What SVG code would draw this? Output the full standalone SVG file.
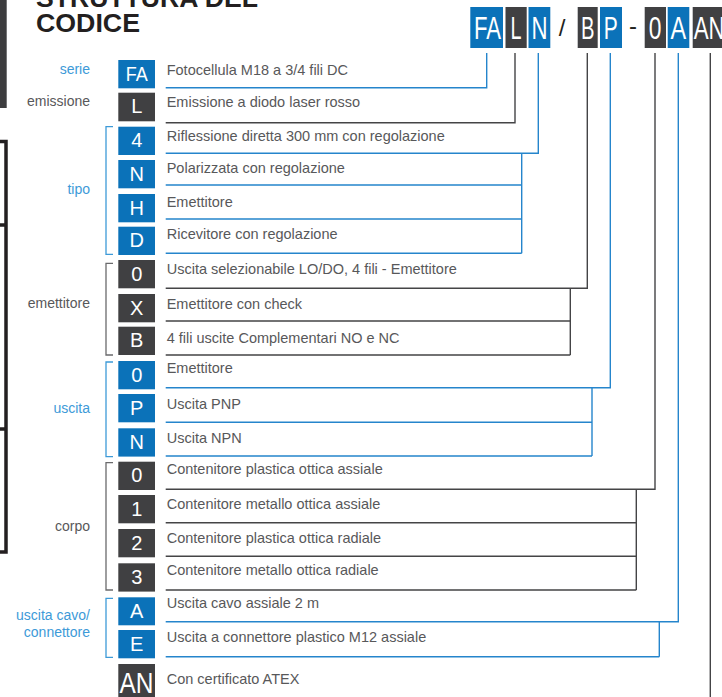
<svg xmlns="http://www.w3.org/2000/svg" width="722" height="697" viewBox="0 0 722 697">
<style>
.bb{fill:#0b72b9}
.db{fill:#404042}
.bl{fill:#fff;font-family:"Liberation Sans",Arial,sans-serif;font-size:20px;text-anchor:middle}
.tl{fill:#fff;font-family:"Liberation Sans",Arial,sans-serif;font-size:31px;text-anchor:middle}
.ds{fill:#58585a;font-family:"Liberation Sans",Arial,sans-serif;font-size:14.5px}
.lb{fill:#3d9ad8;font-family:"Liberation Sans",Arial,sans-serif;font-size:14px;text-anchor:end}
.lg{fill:#58585a;font-family:"Liberation Sans",Arial,sans-serif;font-size:14px;text-anchor:end}
.cb{fill:none;stroke:#2585cc;stroke-width:1.4}
.cd{fill:none;stroke:#444446;stroke-width:1.4}
.brb{fill:none;stroke:#3d9ad8;stroke-width:1.3}
.brd{fill:none;stroke:#6a6a6c;stroke-width:1.3}
</style>
<rect x="0" y="0" width="722" height="697" fill="#fff"/>
<!-- left edge fragments -->
<g id="edge">
<rect x="0" y="0" width="6.7" height="108" fill="#3d3d3f"/>
<path d="M0 141.5 H6 V552 H0 M0 225 H6 M0 429 H6" fill="none" stroke="#231f20" stroke-width="3.5"/>
</g>
<g id="title" font-family="'Liberation Sans',Arial,sans-serif" font-weight="bold" fill="#231f20" font-size="25">
<text x="36" y="6.5" textLength="222" lengthAdjust="spacingAndGlyphs">STRUTTURA DEL</text>
<text x="36" y="31.7" textLength="104" lengthAdjust="spacingAndGlyphs">CODICE</text>
</g>
<!-- code header -->
<g id="code">
<rect class="bb" x="470.3" y="7" width="32.7" height="41"/>
<text class="tl" x="487.6" y="39.3" textLength="27" lengthAdjust="spacingAndGlyphs">FA</text>
<rect class="db" x="505.5" y="7" width="21.2" height="41"/>
<text class="tl" x="516" y="39.3" textLength="11" lengthAdjust="spacingAndGlyphs">L</text>
<rect class="bb" x="528.5" y="7" width="21.8" height="41"/>
<text class="tl" x="539.6" y="39.3" textLength="16" lengthAdjust="spacingAndGlyphs">N</text>
<text x="562" y="36" font-family="'Liberation Sans',Arial,sans-serif" font-size="24" fill="#231f20" text-anchor="middle">/</text>
<rect class="db" x="577.7" y="7" width="20" height="41"/>
<text class="tl" x="587.7" y="39.3" textLength="13.5" lengthAdjust="spacingAndGlyphs">B</text>
<rect class="bb" x="600" y="7" width="22" height="41"/>
<text class="tl" x="610.8" y="39.3" textLength="14" lengthAdjust="spacingAndGlyphs">P</text>
<text x="633" y="34" font-family="'Liberation Sans',Arial,sans-serif" font-size="24" fill="#231f20" text-anchor="middle">-</text>
<rect class="db" x="644.7" y="7" width="21.3" height="41"/>
<text class="tl" x="655" y="39.3" textLength="12.7" lengthAdjust="spacingAndGlyphs">0</text>
<rect class="bb" x="667.7" y="7" width="21.6" height="41"/>
<text class="tl" x="678.3" y="39.3" textLength="15.7" lengthAdjust="spacingAndGlyphs">A</text>
<rect class="db" x="692.7" y="7" width="40" height="41"/>
<text x="693.7" y="39.3" fill="#fff" font-family="'Liberation Sans',Arial,sans-serif" font-size="31" textLength="31" lengthAdjust="spacingAndGlyphs">AN</text>
</g>
<!-- connectors -->
<g id="connectors">
<path class="cb" d="M165.7 87.7 H486.7 V53"/>
<path class="cd" d="M165.7 122.7 H515 V53"/>
<path class="cb" d="M165.7 153.3 H538.3 V53 M521.7 153.3 V253.3 M165.7 185 H521.7 M165.7 219 H521.7 M165.7 253.3 H521.7"/>
<path class="cd" d="M165.7 288.3 H587.3 V53 M570.3 288.3 V355 M165.7 321 H570.3 M165.7 355 H570.3"/>
<path class="cb" d="M165.7 387.7 H610.3 V53 M592 387.7 V456 M165.7 422.3 H592 M165.7 456 H592"/>
<path class="cd" d="M165.7 489.3 H655 V53 M636.3 489.3 V590 M165.7 522.7 H636.3 M165.7 556.3 H636.3 M165.7 590 H636.3"/>
<path class="cb" d="M165.7 621.7 H678.3 V53 M659.3 621.7 V656.7 M165.7 656.7 H659.3"/>
<path class="cd" d="M710.3 53 V697"/>
</g>
<!-- category labels and brackets -->
<g id="labels">
<text class="lb" x="90" y="73.5">serie</text>
<text class="lg" x="90" y="105.5">emissione</text>
<text class="lb" x="90" y="194">tipo</text>
<text class="lg" x="90" y="307.7">emettitore</text>
<text class="lb" x="90" y="412.7">uscita</text>
<text class="lg" x="90" y="531">corpo</text>
<text class="lb" x="90" y="620">uscita cavo/</text>
<text class="lb" x="90" y="636.7">connettore</text>
<path class="brb" d="M113 126.7 H106 V254.3 H113"/>
<path class="brd" d="M113 263.3 H106 V355 H113"/>
<path class="brb" d="M113 362 H106 V456.7 H113"/>
<path class="brd" d="M113 462.7 H106 V590 H113"/>
<path class="brb" d="M113 598.3 H106 V657.3 H113"/>
</g>
<!-- rows -->
<g id="row-FA"><rect class="bb" x="118.3" y="60" width="36.7" height="28.3"/><text class="bl" x="136.7" y="80.5" textLength="22" lengthAdjust="spacingAndGlyphs">FA</text><text class="ds" x="166.7" y="75">Fotocellula M18 a 3/4 fili DC</text></g>
<g id="row-L"><rect class="db" x="118.3" y="92.7" width="36.7" height="28.6"/><text class="bl" x="136.7" y="113.2">L</text><text class="ds" x="166.7" y="107.3">Emissione a diodo laser rosso</text></g>
<g id="row-4"><rect class="bb" x="118.3" y="126.7" width="36.7" height="28.3"/><text class="bl" x="136.7" y="147.2">4</text><text class="ds" x="166.7" y="140.7">Riflessione diretta 300 mm con regolazione</text></g>
<g id="row-N"><rect class="bb" x="118.3" y="160" width="36.7" height="28.3"/><text class="bl" x="136.7" y="180.5">N</text><text class="ds" x="166.7" y="173.3">Polarizzata con regolazione</text></g>
<g id="row-H"><rect class="bb" x="118.3" y="194" width="36.7" height="28.3"/><text class="bl" x="136.7" y="214.5">H</text><text class="ds" x="166.7" y="206.7">Emettitore</text></g>
<g id="row-D"><rect class="bb" x="118.3" y="226.7" width="36.7" height="28.3"/><text class="bl" x="136.7" y="247.2">D</text><text class="ds" x="166.7" y="239.3">Ricevitore con regolazione</text></g>
<g id="row-E0"><rect class="db" x="118.3" y="260" width="36.7" height="28.3"/><text class="bl" x="136.7" y="280.5">0</text><text class="ds" x="166.7" y="274">Uscita selezionabile LO/DO, 4 fili - Emettitore</text></g>
<g id="row-X"><rect class="db" x="118.3" y="294" width="36.7" height="28.3"/><text class="bl" x="136.7" y="314.5">X</text><text class="ds" x="166.7" y="308.7">Emettitore con check</text></g>
<g id="row-B"><rect class="db" x="118.3" y="326.7" width="36.7" height="28.3"/><text class="bl" x="136.7" y="347.2">B</text><text class="ds" x="166.7" y="342.7">4 fili uscite Complementari NO e NC</text></g>
<g id="row-U0"><rect class="bb" x="118.3" y="361" width="36.7" height="28.3"/><text class="bl" x="136.7" y="381.5">0</text><text class="ds" x="166.7" y="373.3">Emettitore</text></g>
<g id="row-P"><rect class="bb" x="118.3" y="394" width="36.7" height="28.3"/><text class="bl" x="136.7" y="414.5">P</text><text class="ds" x="166.7" y="409.3">Uscita PNP</text></g>
<g id="row-UN"><rect class="bb" x="118.3" y="428.3" width="36.7" height="28.3"/><text class="bl" x="136.7" y="448.8">N</text><text class="ds" x="166.7" y="442.7">Uscita NPN</text></g>
<g id="row-C0"><rect class="db" x="118.3" y="461.7" width="36.7" height="28.3"/><text class="bl" x="136.7" y="482.2">0</text><text class="ds" x="166.7" y="474">Contenitore plastica ottica assiale</text></g>
<g id="row-1"><rect class="db" x="118.3" y="495" width="36.7" height="28.3"/><text class="bl" x="136.7" y="515.5">1</text><text class="ds" x="166.7" y="509.3">Contenitore metallo ottica assiale</text></g>
<g id="row-2"><rect class="db" x="118.3" y="529" width="36.7" height="28.3"/><text class="bl" x="136.7" y="549.5">2</text><text class="ds" x="166.7" y="542.7">Contenitore plastica ottica radiale</text></g>
<g id="row-3"><rect class="db" x="118.3" y="563.3" width="36.7" height="28.3"/><text class="bl" x="136.7" y="583.8">3</text><text class="ds" x="166.7" y="575">Contenitore metallo ottica radiale</text></g>
<g id="row-A"><rect class="bb" x="118.3" y="597.3" width="36.7" height="28"/><text class="bl" x="136.7" y="617.8">A</text><text class="ds" x="166.7" y="607.5">Uscita cavo assiale 2 m</text></g>
<g id="row-E"><rect class="bb" x="118.3" y="630" width="36.7" height="28.3"/><text class="bl" x="136.7" y="650.5">E</text><text class="ds" x="166.7" y="641.7">Uscita a connettore plastico M12 assiale</text></g>
<g id="row-AN"><rect class="db" x="118.3" y="664" width="36.7" height="40"/><text x="136.5" y="693.3" fill="#fff" font-family="'Liberation Sans',Arial,sans-serif" font-size="30" text-anchor="middle" textLength="34" lengthAdjust="spacingAndGlyphs">AN</text><text class="ds" x="166.7" y="684">Con certificato ATEX</text></g>
</svg>
